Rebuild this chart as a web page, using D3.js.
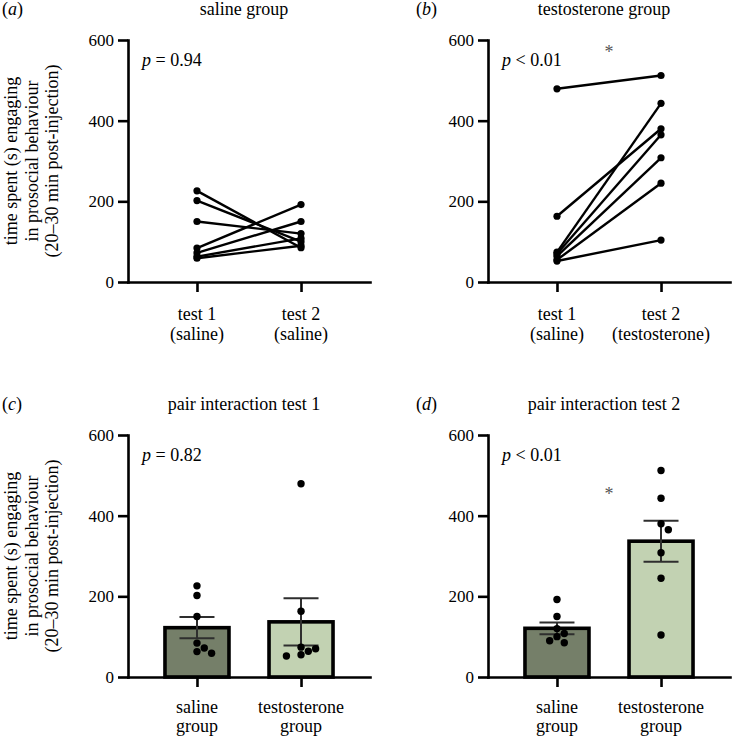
<!DOCTYPE html>
<html><head><meta charset="utf-8">
<script src="https://cdn.jsdelivr.net/npm/d3@7"></script>
<style>
body{margin:0;background:#fff}
svg{display:block}
svg text{font-family:"Liberation Serif","DejaVu Serif",serif !important}
</style>
</head><body><svg id="chart" width="734" height="738"></svg>
<script>
// ---------- data ----------
const conditions = ["test 1", "test 2"];
const conditionSubSaline = ["(saline)", "(saline)"];
const conditionSubTesto = ["(saline)", "(testosterone)"];
const groupKeys = ["saline", "testosterone"];
const groupLabelTop = ["saline", "testosterone"];
const groupLabelBottom = ["group", "group"];
// paired values (same animal, same index)
const salineTest1 = [226, 202, 150, 84, 72, 63, 59];
const salineTest2 = [85, 100, 120, 192, 150, 108, 90];
const testoTest1 = [479, 163, 74, 70, 64, 55, 52];
const testoTest2 = [512, 380, 443, 365, 308, 245, 104];
const yTicks = [0, 200, 400, 600];
const panelLetters = ["a", "b", "c", "d"];
const panelTitles = ["saline group", "testosterone group", "pair interaction test 1", "pair interaction test 2"];
const pSymbols = [" = 0.94", " < 0.01", " = 0.82", " < 0.01"];
const starValues = [null, 577, null, 461];
const yLabelLines = ["time spent (s) engaging", "in prosocial behaviour", "(20\u201330 min post-injection)"];
const barColors = {saline: "#757f69", testosterone: "#c2d2b2"};

// ---------- layout ----------
const FONT = "Liberation Serif";
const W = 242, H = 242;
const panels = [
  {left: 128, top: 40}, {left: 488, top: 40},
  {left: 128, top: 435}, {left: 488, top: 435}
];
const svg = d3.select("#chart").attr("font-family", FONT);

function makePanel(i, domain) {
  const p = panels[i];
  const g = svg.append("g");
  const y = d3.scaleLinear().domain([0, 600]).range([p.top + H, p.top]);
  const x = d3.scalePoint().domain(domain).range([p.left, p.left + W]).padding(0.663);
  const ya = g.append("g").attr("transform", `translate(${p.left},0)`)
    .call(d3.axisLeft(y).tickValues(yTicks).tickSize(10).tickSizeOuter(0).tickPadding(4));
  g.append("g").attr("transform", `translate(0,${p.top + H})`)
    .call(d3.axisBottom(x).tickSize(10).tickSizeOuter(0).tickFormat(""));
  g.selectAll("g").attr("font-family", FONT);
  g.selectAll(".domain").attr("stroke", "#000").attr("stroke-width", 2.6).attr("stroke-linecap", "square");
  g.selectAll(".tick line").attr("stroke", "#000").attr("stroke-width", 2.6);
  ya.selectAll(".tick text").attr("font-size", 17).attr("font-family", FONT).attr("fill", "#000");
  svg.append("text").attr("x", i % 2 === 0 ? 2 : 416).attr("y", p.top - 25)
    .attr("font-size", 18).attr("fill", "#000")
    .call(t => { t.append("tspan").text("("); t.append("tspan").attr("font-style", "italic").text(panelLetters[i]); t.append("tspan").text(")"); });
  svg.append("text").attr("x", p.left + W / 2 - 5).attr("y", p.top - 25)
    .attr("text-anchor", "middle").attr("font-size", 18).attr("fill", "#000").text(panelTitles[i]);
  svg.append("text").attr("x", p.left + 14).attr("y", p.top + 25.5).attr("font-size", 18).attr("fill", "#000")
    .call(t => { t.append("tspan").attr("font-style", "italic").text("p"); t.append("tspan").text(pSymbols[i]); });
  if (starValues[i] !== null) {
    const xs = (x(domain[0]) + x(domain[1])) / 2;
    svg.append("text").attr("x", xs).attr("y", y(starValues[i]) + 9)
      .attr("text-anchor", "middle").attr("font-size", 18).attr("fill", "#555").text("*");
  }
  if (i % 2 === 0) {
    const cy = p.top + H / 2;
    const lab = svg.append("text").attr("transform", `translate(0,${cy}) rotate(-90)`)
      .attr("text-anchor", "middle").attr("font-size", 18).attr("fill", "#000");
    [17, 37.5, 58].forEach((bx, k) => lab.append("tspan").attr("x", 0).attr("y", bx).text(yLabelLines[k]));
  }
  return {g, x, y, p};
}

function xLabels(panel, keys, line1, line2, y1, y2) {
  keys.forEach((k, j) => {
    const t = svg.append("text").attr("text-anchor", "middle").attr("font-size", 18).attr("fill", "#000");
    t.append("tspan").attr("x", panel.x(k)).attr("y", y1).text(line1[j]);
    t.append("tspan").attr("x", panel.x(k)).attr("y", y2).text(line2[j]);
  });
}

// ---------- panels a, b (paired lines) ----------
function pairedPanel(i, t1, t2, subs) {
  const P = makePanel(i, conditions);
  const pts = t1.map((v, k) => [[P.x(conditions[0]), P.y(v)], [P.x(conditions[1]), P.y(t2[k])]]);
  P.g.append("g").selectAll("path").data(pts).join("path")
    .attr("d", d => d3.line()(d)).attr("stroke", "#000").attr("stroke-width", 2.4).attr("fill", "none");
  P.g.append("g").selectAll("circle").data(pts.flat()).join("circle")
    .attr("cx", d => d[0]).attr("cy", d => d[1]).attr("r", 3.6).attr("fill", "#000");
  xLabels(P, conditions, conditions, subs, P.p.top + H + 38, P.p.top + H + 58);
}
pairedPanel(0, salineTest1, salineTest2, conditionSubSaline);
pairedPanel(1, testoTest1, testoTest2, conditionSubTesto);

// ---------- panels c, d (bars) ----------
function dodge(vals, y, cx) {
  const step = 7.3, minD = 7.6;
  const placed = [];
  const order = vals.map((v, k) => k).sort((a, b) => vals[b] - vals[a]);
  const out = new Array(vals.length);
  const cands = [0];
  for (let s = 1; s < 8; s++) { cands.push(s * step, -s * step); }
  order.forEach(k => {
    const py = y(vals[k]);
    for (const off of cands) {
      const px = cx + off;
      if (placed.every(q => Math.hypot(q[0] - px, q[1] - py) >= minD)) {
        placed.push([px, py]); out[k] = [px, py]; break;
      }
    }
  });
  return out;
}
function barPanel(i, sal, tes) {
  const P = makePanel(i, groupKeys);
  const sets = [{key: "saline", vals: sal}, {key: "testosterone", vals: tes}];
  sets.forEach(s => {
    const m = d3.mean(s.vals), se = d3.deviation(s.vals) / Math.sqrt(s.vals.length);
    const cx = P.x(s.key);
    P.g.append("rect").attr("x", cx - 32).attr("width", 64)
      .attr("y", P.y(m)).attr("height", P.y(0) - P.y(m))
      .attr("fill", barColors[s.key]).attr("stroke", "#000").attr("stroke-width", 3.6);
    const eb = P.g.append("g").attr("stroke", "#2e2e2e").attr("stroke-width", 2);
    eb.append("line").attr("x1", cx).attr("x2", cx).attr("y1", P.y(m - se)).attr("y2", P.y(m + se));
    [m - se, m + se].forEach(v => eb.append("line").attr("x1", cx - 17.5).attr("x2", cx + 17.5).attr("y1", P.y(v)).attr("y2", P.y(v)));
    P.g.append("g").selectAll("circle").data(dodge(s.vals, P.y, cx)).join("circle")
      .attr("cx", d => d[0]).attr("cy", d => d[1]).attr("r", 3.7).attr("fill", "#000");
  });
  P.g.selectAll(".domain").raise();
  xLabels(P, groupKeys, groupLabelTop, groupLabelBottom, P.p.top + H + 36, P.p.top + H + 55);
}
barPanel(2, salineTest1, testoTest1);
barPanel(3, salineTest2, testoTest2);
</script>
</body></html>
